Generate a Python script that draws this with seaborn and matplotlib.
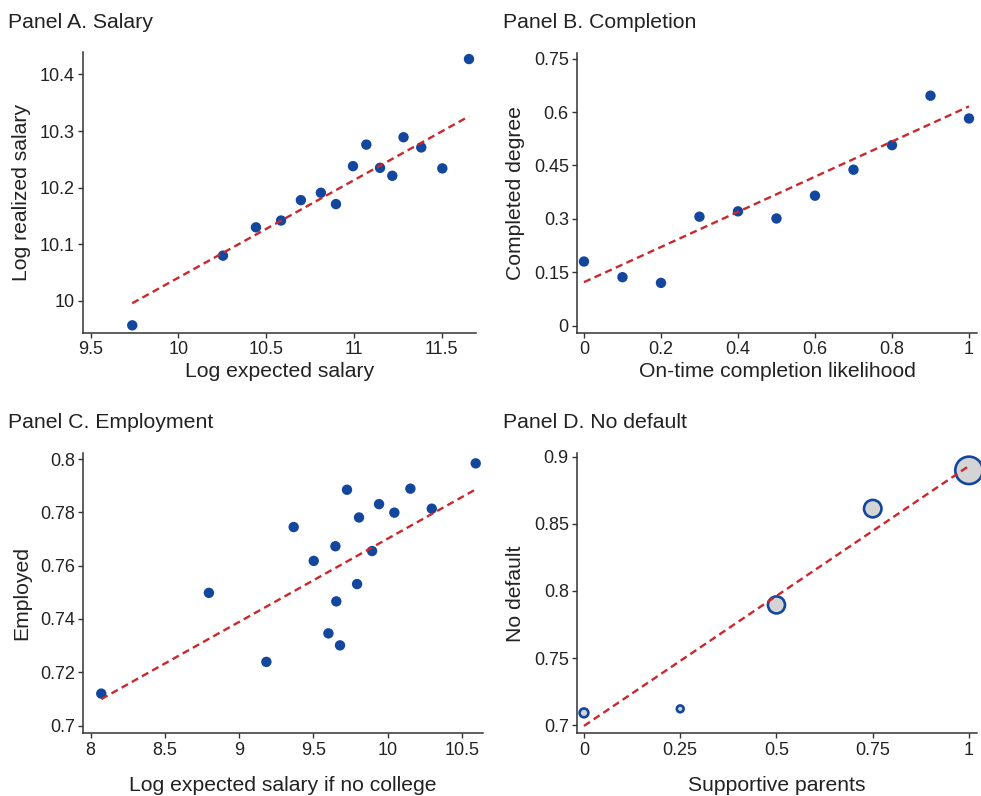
import numpy as np
import pandas as pd
import matplotlib
matplotlib.use("Agg")
import matplotlib.pyplot as plt
import seaborn as sns

# ---------------- data ----------------
# Panel A. Salary
a_x = [9.737, 10.254, 10.442, 10.585, 10.698, 10.812, 10.898, 10.995,
       11.071, 11.149, 11.219, 11.283, 11.384, 11.504, 11.656]
a_y = [9.957, 10.080, 10.130, 10.142, 10.178, 10.191, 10.171, 10.238,
       10.276, 10.235, 10.221, 10.289, 10.271, 10.234, 10.427]
a_fit = [8.3215, 0.17197]          # intercept, slope of fitted line
a_xticks = [9.5, 10, 10.5, 11, 11.5]
a_yticks = [10, 10.1, 10.2, 10.3, 10.4]

# Panel B. Completion
b_x = [0, 0.1, 0.2, 0.3, 0.4, 0.5, 0.6, 0.7, 0.8, 0.9, 1.0]
b_y = [0.180, 0.136, 0.120, 0.306, 0.321, 0.301, 0.365, 0.438, 0.507, 0.646, 0.582]
b_fit = [0.122, 0.494]
b_xticks = [0, 0.2, 0.4, 0.6, 0.8, 1]
b_yticks = [0, 0.15, 0.3, 0.45, 0.6, 0.75]

# Panel C. Employment
c_x = [8.072, 8.797, 9.184, 9.368, 9.503, 9.602, 9.649, 9.655, 9.680,
       9.727, 9.795, 9.808, 9.896, 9.943, 10.046, 10.154, 10.298, 10.594]
c_y = [0.7120, 0.7498, 0.7239, 0.7745, 0.7618, 0.7346, 0.7673, 0.7466, 0.7301,
       0.7885, 0.7531, 0.7781, 0.7655, 0.7831, 0.7799, 0.7889, 0.7814, 0.7984]
c_fit = [0.4580, 0.03121]
c_xticks = [8, 8.5, 9, 9.5, 10, 10.5]
c_yticks = [0.7, 0.72, 0.74, 0.76, 0.78, 0.8]

# Panel D. No default
d_x = [0, 0.25, 0.5, 0.75, 1.0]
d_y = [0.7092, 0.7122, 0.7896, 0.8613, 0.8898]
d_w = [40, 24, 150, 158, 390]      # group weights (marker area)
d_fit = [0.6995, 0.1936]
d_xticks = [0, 0.25, 0.5, 0.75, 1]
d_yticks = [0.7, 0.75, 0.8, 0.85, 0.9]

# ---------------- style ----------------
sns.set_theme(style="white")
plt.rcParams["font.family"] = ["Liberation Sans", "DejaVu Sans"]
plt.rcParams["lines.scale_dashes"] = False

BLUE = "#12479d"
RED = "#c9282d"
GRAY = "#d4d4d4"
AX = "#333333"
TXT = "#222222"

W, H = 981, 796
fig = plt.figure(figsize=(W / 100, H / 100), dpi=100)


def px_axes(left, top, right, bottom):
    return fig.add_axes([left / W, 1 - bottom / H, (right - left) / W, (bottom - top) / H])


def style(ax, xticks, yticks, xlim, ylim, xlabel, ylabel, xpad):
    ax.set_xlim(*xlim)
    ax.set_ylim(*ylim)
    ax.set_xticks(xticks)
    ax.set_yticks(yticks)
    ax.set_xticklabels([f"{t:g}" for t in xticks])
    ax.set_yticklabels([f"{t:g}" for t in yticks])
    for s in ["top", "right"]:
        ax.spines[s].set_visible(False)
    for s in ["left", "bottom"]:
        ax.spines[s].set_color(AX)
        ax.spines[s].set_linewidth(1.1)
    ax.tick_params(axis="both", direction="out", length=3.6, width=1.0, color=AX,
                   labelsize=13, labelcolor=TXT, pad=2.5, left=True, bottom=True)
    ax.set_xlabel(xlabel, fontsize=15.2, color=TXT, labelpad=xpad)
    ax.set_ylabel(ylabel, fontsize=15.2, color=TXT, labelpad=6)
    ax.grid(False)


def fitline(ax, x, fit):
    xs = np.array([min(x), max(x)])
    ax.plot(xs, fit[0] + fit[1] * xs, color=RED, lw=1.7, dashes=(5.2, 3.2), zorder=3)


# Panel A
axA = px_axes(83.3, 51.7, 476, 332.7)
sns.scatterplot(x=a_x, y=a_y, ax=axA, color=BLUE, s=56, edgecolor="none", zorder=2)
fitline(axA, a_x, a_fit)
style(axA, a_xticks, a_yticks, (9.458, 11.696), (9.944, 10.44),
      "Log expected salary", "Log realized salary", 2.5)

# Panel B
axB = px_axes(577.3, 53, 976.7, 332.7)
sns.scatterplot(x=b_x, y=b_y, ax=axB, color=BLUE, s=56, edgecolor="none", zorder=2)
fitline(axB, b_x, b_fit)
style(axB, b_xticks, b_yticks, (-0.0173, 1.02), (-0.02, 0.766),
      "On-time completion likelihood", "Completed degree", 2.5)

# Panel C
axC = px_axes(83.3, 452.7, 482.7, 733.3)
sns.scatterplot(x=c_x, y=c_y, ax=axC, color=BLUE, s=56, edgecolor="none", zorder=2)
fitline(axC, c_x, c_fit)
style(axC, c_xticks, c_yticks, (7.951, 10.641), (0.6971, 0.8024),
      "Log expected salary if no college", "Employed", 12.3)

# Panel D
axD = px_axes(577.3, 453.3, 976.7, 733.3)
dfD = pd.DataFrame({"x": d_x, "y": d_y, "w": d_w})
sns.scatterplot(data=dfD, x="x", y="y", size="w", sizes=(min(d_w), max(d_w)),
                ax=axD, color=GRAY, edgecolor=BLUE, linewidth=1.9,
                legend=False, clip_on=False, zorder=2)
fitline(axD, d_x, d_fit)
style(axD, d_xticks, d_yticks, (-0.0173, 1.02), (0.694, 0.9025),
      "Supportive parents", "No default", 12.3)

# Panel titles
for xp, yp, t in [(8, 28.3, "Panel A. Salary"), (503.3, 28.3, "Panel B. Completion"),
                  (8, 428.5, "Panel C. Employment"), (503.3, 428.5, "Panel D. No default")]:
    fig.text(xp / W, 1 - yp / H, t, fontsize=15.3, color=TXT, ha="left", va="baseline")

fig.savefig("out.png", dpi=100, facecolor="white")
